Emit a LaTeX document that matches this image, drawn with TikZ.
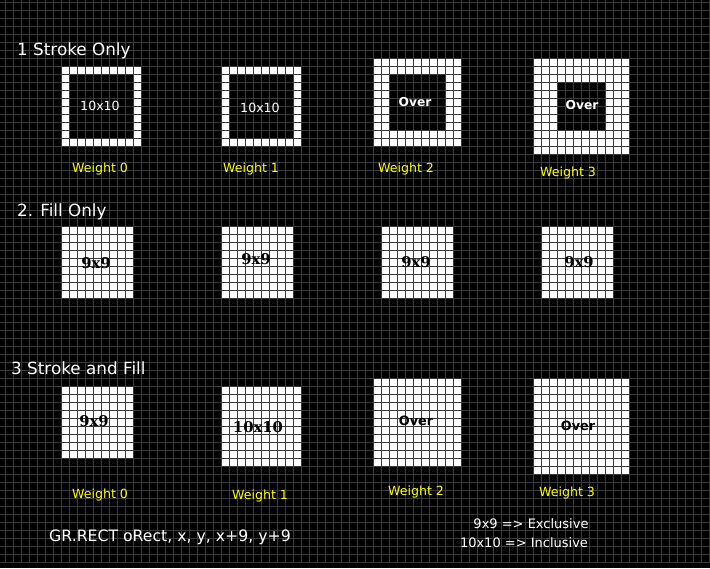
\documentclass[tikz,border=0pt]{standalone}
\usepackage{fontspec}
\setmainfont{DejaVu Sans}
\newfontfamily\serifbold{DejaVu Serif}[BoldFont={DejaVu Serif Bold}]
\definecolor{gridc}{RGB}{58,58,58}
\definecolor{labely}{RGB}{255,255,0}
\begin{document}
\begin{tikzpicture}[x=1pt,y=-1pt,
  title/.style={anchor=base west,text=white,font=\fontsize{16.8}{16.8}\selectfont,inner sep=0},
  wlabel/.style={anchor=base,text=labely,font=\fontsize{12.6}{12.6}\selectfont,inner sep=0},
  intext/.style={text=white,font=\fontsize{12.6}{12.6}\selectfont,inner sep=0},
  overw/.style={text=white,font=\fontsize{12.3}{12.3}\selectfont\bfseries,inner sep=0},
  overb/.style={text=black,font=\fontsize{12.8}{12.8}\selectfont\bfseries,inner sep=0},
  numb/.style={text=black,font=\fontsize{14.8}{14.8}\selectfont\serifbold\bfseries,inner sep=0},
  note/.style={anchor=base,text=white,font=\fontsize{13}{13}\selectfont,inner sep=0},
  code/.style={anchor=base,text=white,font=\fontsize{15.7}{15.7}\selectfont,inner sep=0},
  pix/.style={fill=white,even odd rule}]
\fill[black] (0,0) rectangle (710,568);
\useasboundingbox (0,0) rectangle (710,568);
% row 1: stroke only
\fill[pix] (61,66) rectangle (141,146) (69,74) rectangle (133,138);
\fill[pix] (221,66) rectangle (301,146) (229,74) rectangle (293,138);
\fill[pix] (373,58) rectangle (461,146) (389,74) rectangle (445,130);
\fill[pix] (533,58) rectangle (629,154) (557,82) rectangle (605,130);
% row 2: fill only
\fill[white] (61,226) rectangle (133,298);
\fill[white] (221,226) rectangle (293,298);
\fill[white] (381,226) rectangle (453,298);
\fill[white] (541,226) rectangle (613,298);
% row 3: stroke and fill
\fill[white] (61,386) rectangle (133,458);
\fill[white] (221,386) rectangle (301,466);
\fill[white] (373,378) rectangle (461,466);
\fill[white] (533,378) rectangle (629,474);
% grid
\foreach \i in {0,...,88} {\draw[gridc,line width=1pt] ({5.5+8*\i},0) -- ({5.5+8*\i},562);}
\foreach \j in {0,...,70} {\draw[gridc,line width=1pt] (0,{2.5+8*\j}) -- (710,{2.5+8*\j});}
% titles
\node[title] (t1) at (17,55) {1 Stroke Only};
\node[title] (t2) at (17,216) {2. Fill Only};
\node[title] (t3) at (11,374) {3 Stroke and Fill};
% row 1 texts
\node[intext] (a0) at (100,106) {10x10};
\node[intext] (a1) at (260,108) {10x10};
\node[overw] (a2) at (415,102) {Over};
\node[overw] (a3) at (582,105) {Over};
\node[wlabel] (wa0) at (100,172) {Weight 0};
\node[wlabel] (wa1) at (251,172) {Weight 1};
\node[wlabel] (wa2) at (406,172) {Weight 2};
\node[wlabel] (wa3) at (568,176) {Weight 3};
% row 2 texts
\node[numb] (b0) at (96,263) {9x9};
\node[numb] (b1) at (256,259) {9x9};
\node[numb] (b2) at (416,262) {9x9};
\node[numb] (b3) at (579,262) {9x9};
% row 3 texts
\node[numb] (c0) at (94,421) {9x9};
\node[numb] (c1) at (258,427) {10x10};
\node[overb] (c2) at (416,421) {Over};
\node[overb] (c3) at (578,426) {Over};
\node[wlabel] (wc0) at (100,498) {Weight 0};
\node[wlabel] (wc1) at (260,499) {Weight 1};
\node[wlabel] (wc2) at (416,495) {Weight 2};
\node[wlabel] (wc3) at (567,496) {Weight 3};
% bottom
\node[code] (codeline) at (170,541) {GR.RECT oRect, x, y, x+9, y+9};
\node[note] (n1) at (531,528) {9x9 =\textgreater{} Exclusive};
\node[note] (n2) at (524,547) {10x10 =\textgreater{} Inclusive};
\end{tikzpicture}
\end{document}
